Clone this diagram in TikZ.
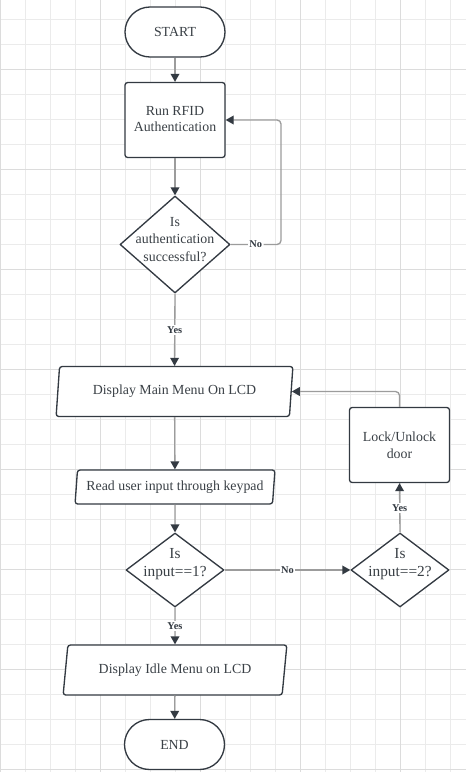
\documentclass[tikz,border=0pt]{standalone}
\usepackage{fontspec}
\setmainfont{Liberation Serif}
\usetikzlibrary{shapes.geometric,arrows.meta}
\definecolor{linedark}{HTML}{333A42}
\definecolor{conngray}{HTML}{9C9C9C}
\definecolor{gridminor}{HTML}{EBEBEB}
\definecolor{gridmajor}{HTML}{DCDCDC}
\definecolor{textgray}{HTML}{3A4046}

\begin{document}
\begin{tikzpicture}[x=0.75pt,y=-0.75pt,join=round,
        base/.style={draw=linedark,line width=1pt,fill=white,text=textgray,
            font=\fontsize{10.4}{12.8}\selectfont,align=center,inner sep=0pt},
        terminal/.style={base,rounded corners=18.75pt,minimum width=75pt,minimum height=37.5pt},
        process/.style={base,rounded corners=2pt,minimum width=75pt,minimum height=56.25pt},
        decision/.style={base,diamond,minimum width=#1},
        io/.style={base,trapezium,trapezium stretches=true,rounded corners=2pt},
        qtext/.style={text=textgray,font=\fontsize{10.4}{12.8}\selectfont,align=center,inner sep=0pt},
        qbig/.style={qtext,font=\fontsize{11.5}{14}\selectfont},
        conn/.style={draw=conngray,line width=1pt,-{Triangle[length=6pt,width=6.5pt,color=linedark]}},
        tag/.style={fill=white,text=linedark,font=\fontsize{7.8}{9}\selectfont\bfseries,inner sep=1pt}]
    % canvas and grid
    \useasboundingbox (0,0) rectangle (466,772);
    \fill[white] (0,0) rectangle (466,772);
    \foreach \gx in {0,25,...,450} \draw[gridminor,line width=0.6pt] (\gx,0) -- (\gx,772);
    \foreach \gy in {19,44,...,769} \draw[gridminor,line width=0.6pt] (0,\gy) -- (466,\gy);
    \foreach \gx in {0,100,...,400} \draw[gridmajor,line width=0.6pt] (\gx,0) -- (\gx,772);
    \foreach \gy in {69,169,...,769} \draw[gridmajor,line width=0.6pt] (0,\gy) -- (466,\gy);
    % shapes
    \node[terminal] (start) at (175,32) {START};
    \node[process] (rfid) at (175,120) {\raisebox{1.5pt}{\shortstack{Run RFID\\[1pt]Authentication}}};
    \node[decision=82.5pt,minimum height=72.75pt,
        label={[qtext,yshift=3.75pt]center:Is\\authentication\\successful?}] (auth) at (175,244.5) {};
    \node[io,trapezium left angle=79,trapezium right angle=101,
        minimum width=177.75pt,minimum height=37.5pt] (menu) at (174.5,391.5) {Display Main Menu On LCD};
    \node[io,trapezium left angle=80,trapezium right angle=100,
        minimum width=150pt,minimum height=25.5pt] (read) at (175,487) {Read user input through keypad};
    \node[decision=73.5pt,minimum height=55.5pt,
        label={[qbig,yshift=4.5pt]center:Is\\input==1?}] (one) at (175,570) {};
    \node[decision=73.5pt,minimum height=55.5pt,
        label={[qbig,yshift=4.5pt]center:Is\\input==2?}] (two) at (400,570) {};
    \node[process] (lock) at (399.5,445) {Lock/Unlock\\door};
    \node[io,trapezium left angle=75,trapezium right angle=105,
        minimum width=168pt,minimum height=37.5pt] (idle) at (175,670) {Display Idle Menu on LCD};
    \node[terminal] (end) at (174.5,744.5) {END};
    \coordinate (back) at (281,244.5);
    % connectors
    \draw[conn] (start) -- (rfid);
    \draw[conn] (rfid) -- (auth);
    \draw[conn,rounded corners=3pt] (auth.east) -- node[tag] {No} (back) |- (rfid.east);
    \draw[conn] (auth.south) -- node[tag] {Yes} (menu.north);
    \draw[conn] (menu) -- (read);
    \draw[conn] (read) -- (one);
    \draw[conn] (one.east) -- node[tag] {No} (two.west);
    \draw[conn] (two.north) -- node[tag] {Yes} (lock.south);
    \draw[conn,rounded corners=3pt] (lock.north) |- (menu.east);
    \draw[conn] (one.south) -- node[tag] {Yes} (idle.north);
    \draw[conn] (idle) -- (end);
\end{tikzpicture}
\end{document}
